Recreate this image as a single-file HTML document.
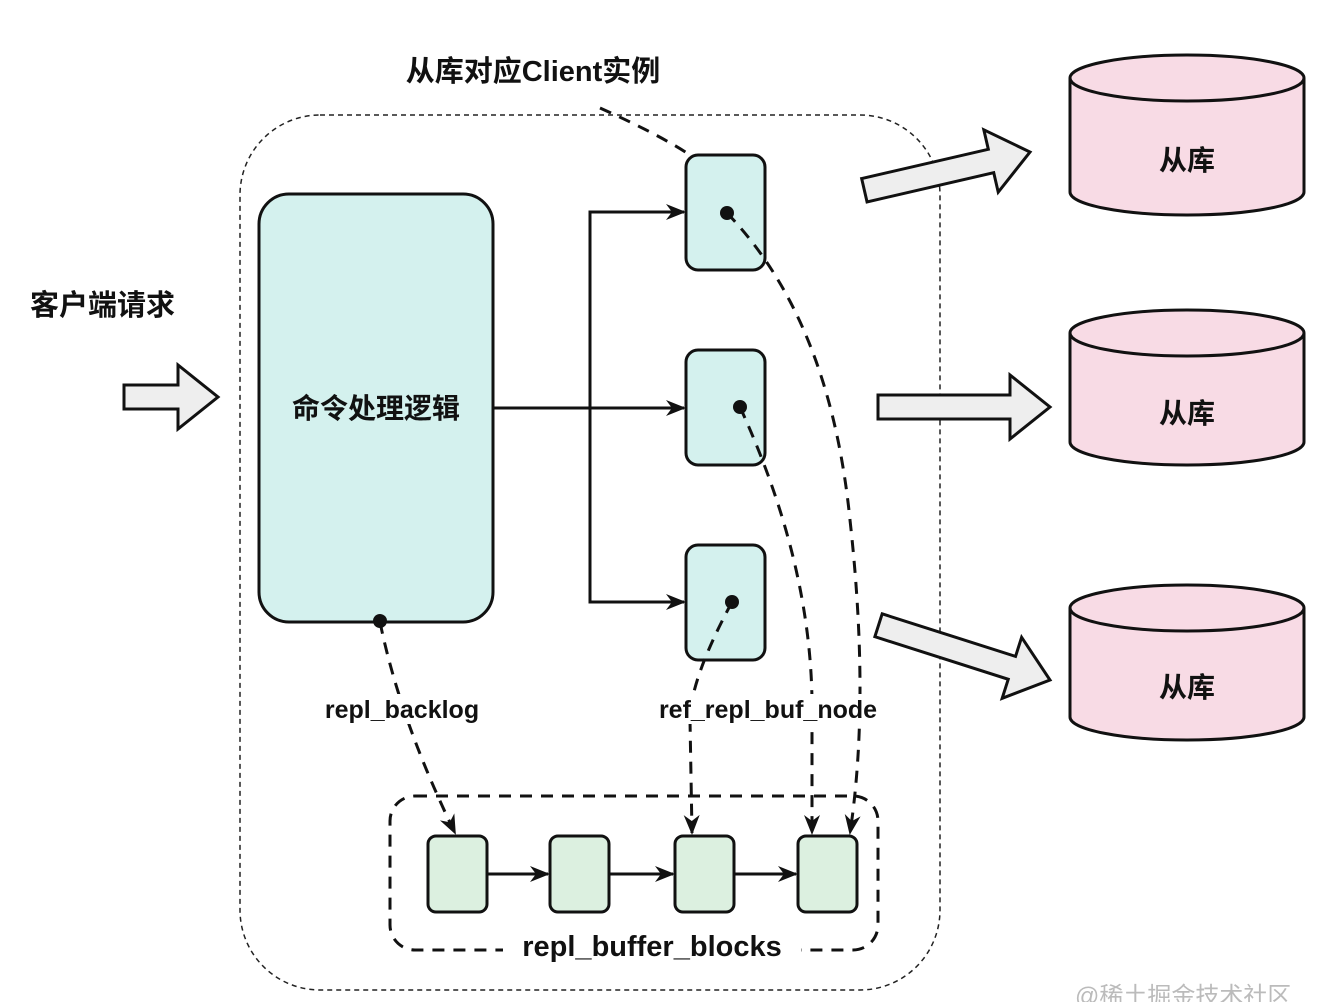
<!DOCTYPE html>
<html><head><meta charset="utf-8"><style>
html,body{margin:0;padding:0;background:#fff;}
svg text{font-family:"Liberation Sans","Noto Sans CJK SC",sans-serif;font-weight:bold;fill:#111;}
</style></head><body>
<svg width="1330" height="1002" viewBox="0 0 1330 1002" xmlns="http://www.w3.org/2000/svg">
<defs>
<marker id="a" viewBox="0 0 20 20" refX="18" refY="10" markerWidth="20" markerHeight="20" orient="auto" markerUnits="userSpaceOnUse">
<path d="M0,2 L20,10 L0,18 L6,10 Z" fill="#111"/>
</marker>
</defs>

<rect x="240" y="115" width="700" height="875" rx="80" fill="none" stroke="#222" stroke-width="1.5" stroke-dasharray="5,4"/>

<rect x="259" y="194" width="234" height="428" rx="30" fill="#d4f1ee" stroke="#111" stroke-width="3"/>
<text x="376" y="418" font-size="28" text-anchor="middle">命令处理逻辑</text>

<rect x="686" y="155" width="79" height="115" rx="12" fill="#d4f1ee" stroke="#111" stroke-width="3"/>
<rect x="686" y="350" width="79" height="115" rx="12" fill="#d4f1ee" stroke="#111" stroke-width="3"/>
<rect x="686" y="545" width="79" height="115" rx="12" fill="#d4f1ee" stroke="#111" stroke-width="3"/>

<g stroke="#111" stroke-width="3" fill="none">
<line x1="493" y1="408" x2="684" y2="408" marker-end="url(#a)"/>
<polyline points="684,212 590,212 590,602 684,602" />
<line x1="600" y1="212" x2="684" y2="212" marker-end="url(#a)"/>
<line x1="600" y1="602" x2="684" y2="602" marker-end="url(#a)"/>
</g>

<rect x="390" y="796" width="488" height="154" rx="25" fill="none" stroke="#111" stroke-width="3" stroke-dasharray="12,9"/>

<g fill="#dcf0e0" stroke="#111" stroke-width="3">
<rect x="428" y="836" width="59" height="76" rx="8"/>
<rect x="550" y="836" width="59" height="76" rx="8"/>
<rect x="675" y="836" width="59" height="76" rx="8"/>
<rect x="798" y="836" width="59" height="76" rx="8"/>
</g>
<g stroke="#111" stroke-width="3">
<line x1="487" y1="874" x2="548" y2="874" marker-end="url(#a)"/>
<line x1="609" y1="874" x2="673" y2="874" marker-end="url(#a)"/>
<line x1="734" y1="874" x2="796" y2="874" marker-end="url(#a)"/>
</g>

<g stroke="#111" stroke-width="3" fill="none" stroke-dasharray="12,9">
<path d="M600,108 Q660,135 690,155"/>
<path d="M727,213 Q830,320 850,520 Q870,700 850,833" marker-end="url(#a)"/>
<path d="M740,407 Q810,560 812,700 L812,833" marker-end="url(#a)"/>
<path d="M732,602 Q690,680 690,720 L692,833" marker-end="url(#a)"/>
<path d="M380,622 Q400,720 455,833" marker-end="url(#a)"/>
</g>
<g fill="#111">
<circle cx="727" cy="213" r="7"/>
<circle cx="740" cy="407" r="7"/>
<circle cx="732" cy="602" r="7"/>
<circle cx="380" cy="621" r="7"/>
</g>

<rect x="320" y="694" width="165" height="30" fill="#fff"/>
<text x="402" y="718" font-size="25" text-anchor="middle">repl_backlog</text>
<rect x="645" y="694" width="248" height="30" fill="#fff"/>
<text x="768" y="718" font-size="25" text-anchor="middle">ref_repl_buf_node</text>
<rect x="503" y="930" width="298" height="34" fill="#fff"/>
<text x="652" y="956" font-size="29" text-anchor="middle">repl_buffer_blocks</text>
<text x="533" y="81" font-size="29" text-anchor="middle">从库对应Client实例</text>
<text x="30" y="315" font-size="29">客户端请求</text>

<g fill="#eeeeee" stroke="#111" stroke-width="3" stroke-linejoin="miter">
<g transform="translate(218,397)"><path d="M-94,-12 L-40,-12 L-40,-32 L0,0 L-40,32 L-40,12 L-94,12 Z"/></g>
<g transform="translate(1030,152) rotate(-13)"><path d="M-170,-12 L-40,-12 L-40,-32 L0,0 L-40,32 L-40,12 L-170,12 Z"/></g>
<g transform="translate(1050,407)"><path d="M-172,-12 L-40,-12 L-40,-32 L0,0 L-40,32 L-40,12 L-172,12 Z"/></g>
<g transform="translate(1050,680) rotate(17.7)"><path d="M-180,-12 L-40,-12 L-40,-32 L0,0 L-40,32 L-40,12 L-180,12 Z"/></g>
</g>

<g fill="#f8dbe5" stroke="#111" stroke-width="3">
<path d="M1070,78 L1070,192 A117,23 0 0 0 1304,192 L1304,78"/>
<ellipse cx="1187" cy="78" rx="117" ry="23"/>
<path d="M1070,333 L1070,442 A117,23 0 0 0 1304,442 L1304,333"/>
<ellipse cx="1187" cy="333" rx="117" ry="23"/>
<path d="M1070,608 L1070,717 A117,23 0 0 0 1304,717 L1304,608"/>
<ellipse cx="1187" cy="608" rx="117" ry="23"/>
</g>
<text x="1187" y="170" font-size="28" text-anchor="middle">从库</text>
<text x="1187" y="423" font-size="28" text-anchor="middle">从库</text>
<text x="1187" y="697" font-size="28" text-anchor="middle">从库</text>

<text x="1075" y="1004" font-size="24" style="font-weight:normal;fill:#bbb">@稀土掘金技术社区</text>
</svg>
</body></html>
